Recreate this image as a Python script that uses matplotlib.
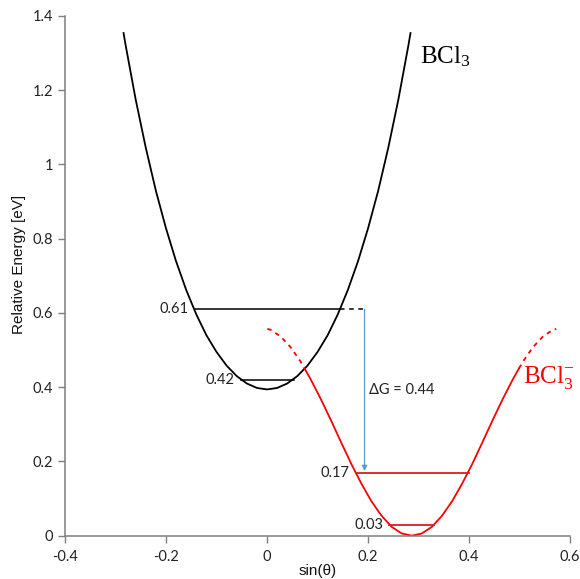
import matplotlib
matplotlib.use("Agg")
import matplotlib.pyplot as plt

# ---- data ----
bcl3_x = [-0.284, -0.28, -0.26, -0.24, -0.22, -0.20, -0.18, -0.16, -0.14, -0.12, -0.10, -0.08, -0.06,
          -0.04, -0.02, 0.0, 0.02, 0.04, 0.06, 0.08, 0.10, 0.12, 0.14, 0.16, 0.18, 0.20, 0.22,
          0.24, 0.26, 0.28, 0.284]
bcl3_y = [1.354, 1.322, 1.175, 1.045, 0.929, 0.828, 0.739, 0.662, 0.596, 0.540, 0.495, 0.458, 0.430,
          0.410, 0.398, 0.394, 0.398, 0.410, 0.430, 0.458, 0.495, 0.540, 0.596, 0.662, 0.739, 0.828, 0.929,
          1.045, 1.175, 1.322, 1.354]

anion_x = [0.0745, 0.0865, 0.1065, 0.1265, 0.1465, 0.1665, 0.1865, 0.2065, 0.2265, 0.2465, 0.2665, 0.2865,
           0.3065, 0.3265, 0.3465, 0.3665, 0.3865, 0.4065, 0.4265, 0.4465, 0.4665, 0.4865, 0.4985]
anion_y = [0.450, 0.421, 0.368, 0.311, 0.252, 0.194, 0.141, 0.093, 0.054, 0.024, 0.006, 0.0,
           0.006, 0.024, 0.054, 0.093, 0.141, 0.194, 0.252, 0.311, 0.368, 0.421, 0.450]
anion_dash_left_x = [0.0005, 0.0065, 0.0265, 0.0465, 0.0665, 0.0745]
anion_dash_left_y = [0.557, 0.555, 0.537, 0.508, 0.469, 0.450]
anion_dash_right_x = [0.4985, 0.5065, 0.5265, 0.5465, 0.5665, 0.5725]
anion_dash_right_y = [0.450, 0.469, 0.508, 0.537, 0.555, 0.557]

# vibrational levels: (value, x_start, x_end)
bcl3_levels = [0.61, 0.42]
bcl3_level_x0 = [-0.143, -0.052]
bcl3_level_x1 = [0.145, 0.0535]
anion_levels = [0.17, 0.03]
anion_level_x0 = [0.176, 0.242]
anion_level_x1 = [0.399, 0.331]
level_labels_bcl3 = ["0.61", "0.42"]
level_labels_anion = ["0.17", "0.03"]

dG_x = 0.193
dG_top = 0.61
dG_bottom = 0.17
dG_label = "ΔG = 0.44"
dash_ext_x = [0.145, 0.197]

x_ticks = [-0.4, -0.2, 0, 0.2, 0.4, 0.6]
x_ticklabels = ["-0.4", "-0.2", "0", "0.2", "0.4", "0.6"]
y_ticks = [0, 0.2, 0.4, 0.6, 0.8, 1, 1.2, 1.4]
y_ticklabels = ["0", "0.2", "0.4", "0.6", "0.8", "1", "1.2", "1.4"]

# ---- figure ----
plt.rcParams['font.family'] = ['Lato', 'DejaVu Sans']
plt.rcParams['mathtext.fontset'] = 'custom'
plt.rcParams['mathtext.rm'] = 'Liberation Serif'
plt.rcParams['mathtext.it'] = 'Liberation Serif'
plt.rcParams['mathtext.bf'] = 'Liberation Serif'

fig = plt.figure(figsize=(5.8, 5.79), dpi=100)
ax = fig.add_axes([0.112, 0.0748, 0.871, 0.8976])

RED = "#ff0000"
LRED = "#d42020"
ax.plot(bcl3_x, bcl3_y, color="black", lw=1.3)
ax.plot(anion_x, anion_y, color=RED, lw=1.3)
ax.plot(anion_dash_left_x, anion_dash_left_y, color=RED, lw=1.3, ls=(0, (2.5, 2.5)))
ax.plot(anion_dash_right_x, anion_dash_right_y, color=RED, lw=1.3, ls=(0, (2.5, 2.5)))

for v, x0, x1, lab in zip(bcl3_levels, bcl3_level_x0, bcl3_level_x1, level_labels_bcl3):
    ax.plot([x0, x1], [v, v], color="black", lw=1.1)
    ax.text(x0 - 0.012, v, lab, ha="right", va="center", fontsize=10.5, color="#222222")
for v, x0, x1, lab in zip(anion_levels, anion_level_x0, anion_level_x1, level_labels_anion):
    ax.plot([x0, x1], [v, v], color=LRED, lw=1.3)
    ax.text(x0 - 0.012, v, lab, ha="right", va="center", fontsize=10.5, color="#222222")

ax.plot(dash_ext_x, [dG_top, dG_top], color="black", lw=1.1, ls=(0, (3, 3)))
ax.annotate("", xy=(dG_x, dG_bottom + 0.004), xytext=(dG_x, dG_top),
            arrowprops=dict(arrowstyle="-|>", color="#5b9bd5", lw=0.9,
                            mutation_scale=8, shrinkA=0, shrinkB=0))
ax.text(dG_x + 0.008, 0.392, dG_label, ha="left", va="center", fontsize=10.5, color="#222222")

ax.text(0.302, 1.29, r"BCl$_\mathrm{3}$", fontsize=18, color="black", family="Liberation Serif",
        ha="left", va="center")
ax.text(0.507, 0.425, r"BCl$_\mathrm{3}^\mathrm{-}$", fontsize=18, color=RED, family="Liberation Serif",
        ha="left", va="center")

ax.set_xlim(-0.4, 0.6)
ax.set_ylim(0, 1.4)
ax.set_xticks(x_ticks)
ax.set_xticklabels(x_ticklabels)
ax.set_yticks(y_ticks)
ax.set_yticklabels(y_ticklabels)
ax.tick_params(axis="both", direction="out", length=5, width=1, color="#7f7f7f",
               labelsize=10.5, labelcolor="#222222")
ax.tick_params(axis="x", pad=5)
for s in ["top", "right"]:
    ax.spines[s].set_visible(False)
for s in ["left", "bottom"]:
    ax.spines[s].set_color("#7f7f7f")
    ax.spines[s].set_linewidth(1.1)

ax.set_xlabel("sin(θ)", fontsize=11, color="#111111", family=["Liberation Sans", "DejaVu Sans"])
ax.xaxis.set_label_coords(0.5, -0.068)
ax.xaxis.label.set_va("center")
ax.set_ylabel("Relative Energy [eV]", fontsize=11, color="#111111", family="Liberation Sans")
ax.yaxis.set_label_coords(-0.091, 0.521)
ax.yaxis.label.set_va("center")

fig.savefig("out.png", dpi=100)
